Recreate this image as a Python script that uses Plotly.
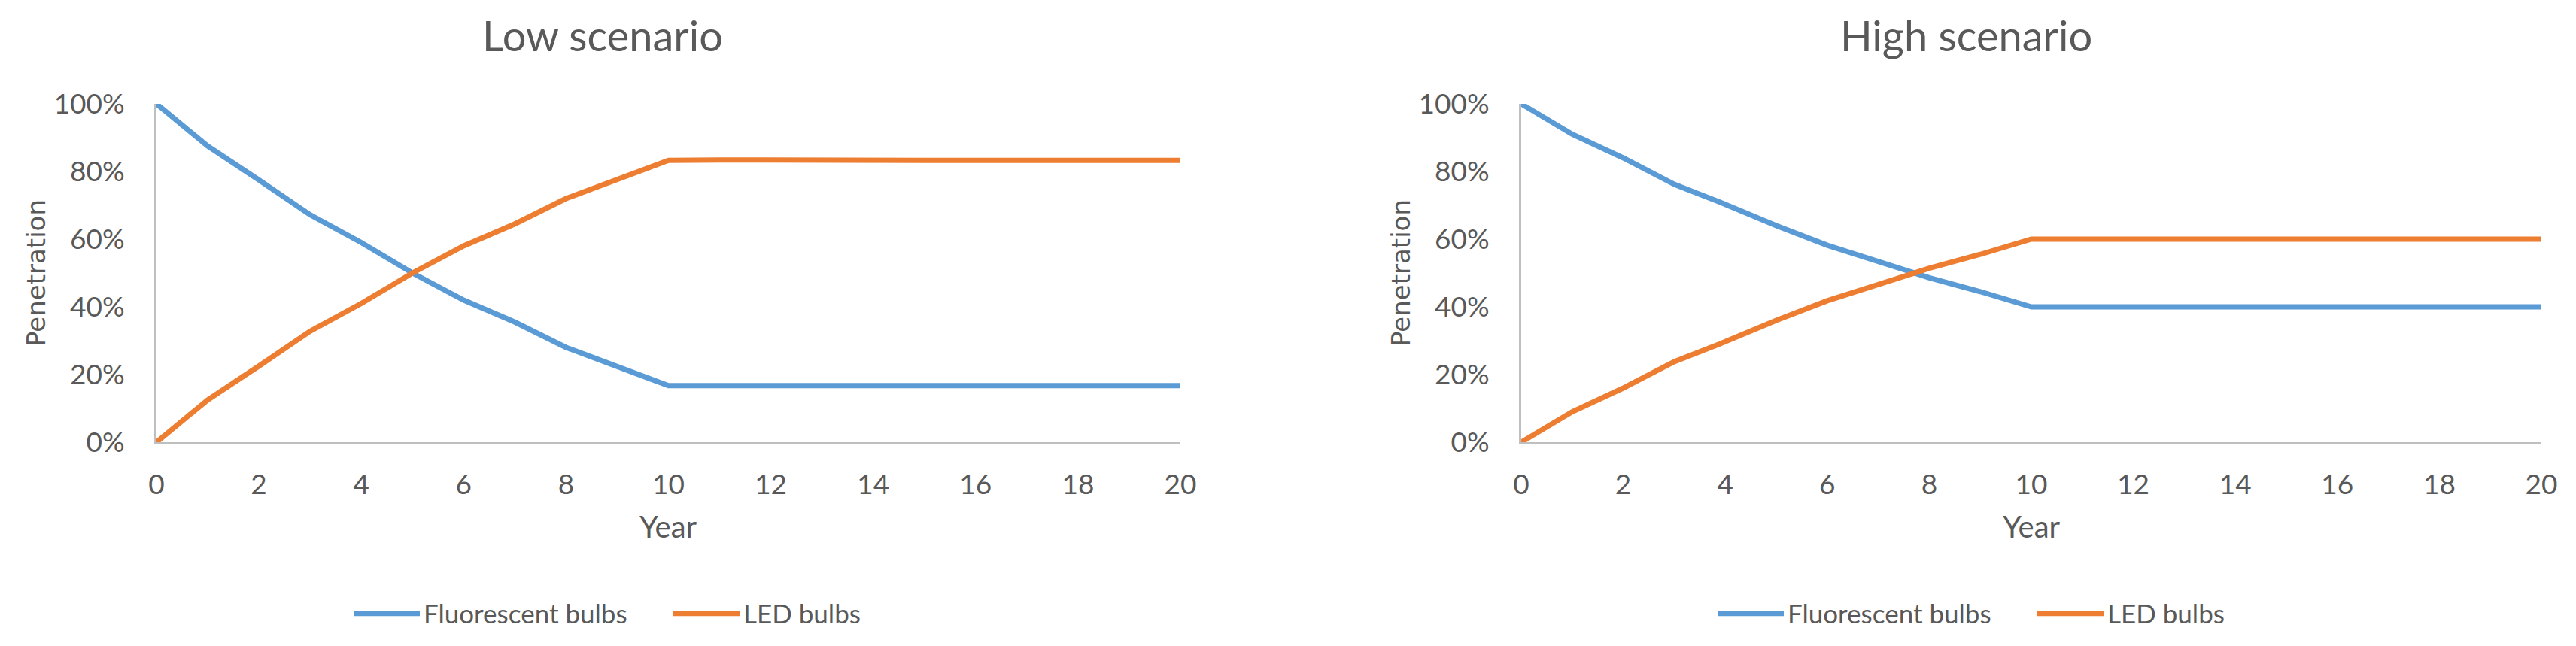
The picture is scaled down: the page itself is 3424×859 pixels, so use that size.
import plotly.graph_objects as go

years = list(range(0, 21))

low_fluorescent = [1.00, 0.875, 0.775, 0.672, 0.590, 0.500, 0.420, 0.355, 0.280, 0.225, 0.167,
                   0.167, 0.167, 0.167, 0.167, 0.167, 0.167, 0.167, 0.167, 0.167, 0.167]
low_led = [0.00, 0.125, 0.225, 0.328, 0.410, 0.500, 0.580, 0.645, 0.720, 0.775, 0.833,
           0.834, 0.833, 0.833, 0.833, 0.833, 0.833, 0.833, 0.833, 0.833, 0.833]

high_fluorescent = [1.00, 0.910, 0.840, 0.762, 0.703, 0.640, 0.582, 0.536, 0.486, 0.445, 0.400,
                    0.400, 0.400, 0.400, 0.400, 0.400, 0.400, 0.400, 0.400, 0.400, 0.400]
high_led = [0.00, 0.090, 0.160, 0.238, 0.297, 0.360, 0.418, 0.464, 0.514, 0.555, 0.600,
            0.600, 0.600, 0.600, 0.600, 0.600, 0.600, 0.600, 0.600, 0.600, 0.600]

titles = ["Low scenario", "High scenario"]
series_names = ["Fluorescent bulbs", "LED bulbs"]
x_title = "Year"
y_title = "Penetration"

BLUE = "#5B9BD5"
ORANGE = "#ED7D31"
GRID = "#BFBFBF"
TEXT = "#595959"
FONT = "Lato"

W, H = 3424, 859

fig = go.Figure()

panels = [
    (low_fluorescent, low_led, "x", "y", "legend"),
    (high_fluorescent, high_led, "x2", "y2", "legend2"),
]
for f_vals, l_vals, xa, ya, lg in panels:
    fig.add_trace(go.Scatter(x=years, y=f_vals, mode="lines", name=series_names[0],
                             line=dict(color=BLUE, width=7), xaxis=xa, yaxis=ya, legend=lg))
    fig.add_trace(go.Scatter(x=years, y=l_vals, mode="lines", name=series_names[1],
                             line=dict(color=ORANGE, width=7), xaxis=xa, yaxis=ya, legend=lg))

# pixel geometry
plot_left = [208, 2022]
plot_right = [1569, 3378]
plot_top, plot_bottom = 138, 588

def px(x):
    return x / W

def py(y):
    return 1 - y / H

ydom = [py(plot_bottom), py(plot_top)]

axis_common = dict(showgrid=False, zeroline=False, showline=True, linecolor=GRID, linewidth=3,
                   ticks="", automargin=False,
                   tickfont=dict(family=FONT, size=37, color=TEXT))

legend_common = dict(orientation="h", y=py(816), xanchor="left", yanchor="middle",
                     font=dict(family=FONT, size=35, color=TEXT), bgcolor="rgba(0,0,0,0)",
                     itemwidth=88, entrywidth=322, entrywidthmode="pixels", traceorder="normal")

fig.update_layout(
    width=W, height=H, autosize=False,
    margin=dict(l=0, r=0, t=0, b=0, pad=0, autoexpand=False),
    paper_bgcolor="white", plot_bgcolor="white",
    showlegend=True,
    xaxis=dict(domain=[px(plot_left[0]), px(plot_right[0])], range=[0, 20], tick0=0, dtick=2,
               anchor="y", ticklabelstandoff=22, **axis_common),
    yaxis=dict(domain=ydom, range=[0, 1], tick0=0, dtick=0.2, tickformat=".0%",
               anchor="x", ticklabelstandoff=32, **axis_common),
    xaxis2=dict(domain=[px(plot_left[1]), px(plot_right[1])], range=[0, 20], tick0=0, dtick=2,
                anchor="y2", ticklabelstandoff=22, **axis_common),
    yaxis2=dict(domain=ydom, range=[0, 1], tick0=0, dtick=0.2, tickformat=".0%",
                anchor="x2", ticklabelstandoff=32, **axis_common),
    legend=dict(x=px(465), **legend_common),
    legend2=dict(x=px(465 + 1813), **legend_common),
)

title_cx = [801, 2613]
annotations = []
for i in range(2):
    annotations.append(dict(text=titles[i], x=px(title_cx[i]), y=py(47), xref="paper", yref="paper",
                            xanchor="center", yanchor="middle", showarrow=False,
                            font=dict(family=FONT, size=56, color=TEXT)))
    cx = (plot_left[i] + plot_right[i]) / 2
    annotations.append(dict(text=x_title, x=px(cx), y=py(700), xref="paper", yref="paper",
                            xanchor="center", yanchor="middle", showarrow=False,
                            font=dict(family=FONT, size=40, color=TEXT)))
    annotations.append(dict(text=y_title, x=px(plot_left[i] - 160), y=py((plot_top + plot_bottom) / 2),
                            xref="paper", yref="paper", xanchor="center", yanchor="middle",
                            showarrow=False, textangle=-90,
                            font=dict(family="DejaVu Sans", size=34, color=TEXT)))
fig.update_layout(annotations=annotations)

fig.write_html("out.html", config={"displayModeBar": False},
               post_script="document.body.style.margin='0';")
